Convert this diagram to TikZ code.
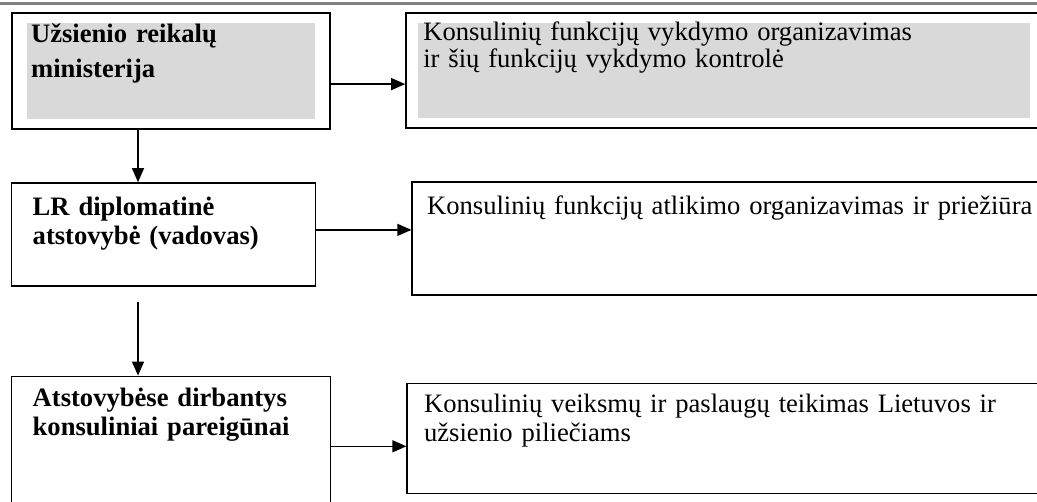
\documentclass[tikz,border=0pt]{standalone}
\usepackage{fontspec}
\setmainfont{Liberation Serif}
\usetikzlibrary{arrows.meta,positioning}
\definecolor{shadegray}{HTML}{D9D9D9}
\definecolor{rulegray}{HTML}{808080}

\begin{document}
\begin{tikzpicture}[
    unit/.style={
      draw,
      line width=0.7pt,
      align=left,
      inner ysep=0pt,
      inner xsep=10.5pt,
      font=\bfseries\fontsize{13.3}{14.5}\selectfont
    },
    duty/.style={
      draw,
      line width=0.7pt,
      align=left,
      inner ysep=0pt,
      inner xsep=8.5pt,
      text width=310pt,
      font=\fontsize{13.3}{14.5}\selectfont
    },
    shaded/.style 2 args={
      path picture={\fill[shadegray]
        ([shift={(#1,-5pt)}]path picture bounding box.north west) rectangle
        ([shift={(-#2,5pt)}]path picture bounding box.south east);}
    },
    >={Triangle[length=7pt,width=6pt]}
  ]
  \useasboundingbox (0,0) rectangle (518.5pt,-251pt);
  \draw[rulegray, line width=1.5pt] (0,-1.6pt) -- (518.5pt,-1.6pt);

  % left column
  \node[unit, shaded={7.5pt}{7.5pt}, line width=1.1pt, inner xsep=9.5pt, text width=140pt,
        text height=14.5pt, text depth=43.5pt, font=\bfseries\fontsize{13.3}{17.5}\selectfont,
        anchor=north west] (mfa) at (5.5pt,-6pt) {Užsienio reikalų\\ministerija};
  \node[unit, text width=131pt, text height=16.5pt, text depth=35pt,
        below=26pt of mfa.south west, anchor=north west] (mission) {LR diplomatinė\\atstovybė (vadovas)};
  \node[unit, text width=138.5pt, text height=15pt, text depth=54pt,
        below=44.5pt of mission.south west, anchor=north west] (staff) {Atstovybėse dirbantys\\konsuliniai pareigūnai};

  % right column
  \node[duty, shaded={6pt}{15pt}, line width=1.1pt, text height=13.5pt, text depth=44pt, font=\fontsize{13.3}{13.5}\selectfont,
        right=37pt of mfa.north east, anchor=north west] (dutyA) {Konsulinių funkcijų vykdymo organizavimas\\ir šių funkcijų vykdymo kontrolė};
  \node[duty, inner xsep=7.5pt, text height=16.5pt, text depth=40pt,
        right=47.5pt of mission.north east, anchor=north west, yshift=0.5pt] (dutyB) {Konsulinių funkcijų atlikimo organizavimas ir priežiūra};
  \node[duty, text height=14.5pt, text depth=40.5pt,
        right=37.5pt of staff.north east, anchor=north west, yshift=-3.5pt] (dutyC) {Konsulinių veiksmų ir paslaugų teikimas Lietuvos ir\\užsienio piliečiams};

  % connectors
  \coordinate (axis) at ([xshift=63.5pt]mfa.south west);
  \path (axis |- mission.south) ++(0,-7.5pt) coordinate (drop);
  \coordinate (rowA) at ([yshift=-6.5pt]mfa.east);
  \coordinate (rowB) at ([yshift=2.25pt]mission.east);
  \coordinate (rowC) at ([yshift=-0.5pt]staff.east);

  \draw[->, line width=0.6pt] (axis) -- (axis |- mission.north);
  \draw[->, line width=0.6pt] (drop) -- (drop |- staff.north);
  \draw[->, line width=0.6pt] (rowA) -- (rowA -| dutyA.west);
  \draw[->, line width=0.6pt] (rowB) -- (rowB -| dutyB.west);
  \draw[->, line width=0.6pt] (rowC) -- (rowC -| dutyC.west);
\end{tikzpicture}
\end{document}
